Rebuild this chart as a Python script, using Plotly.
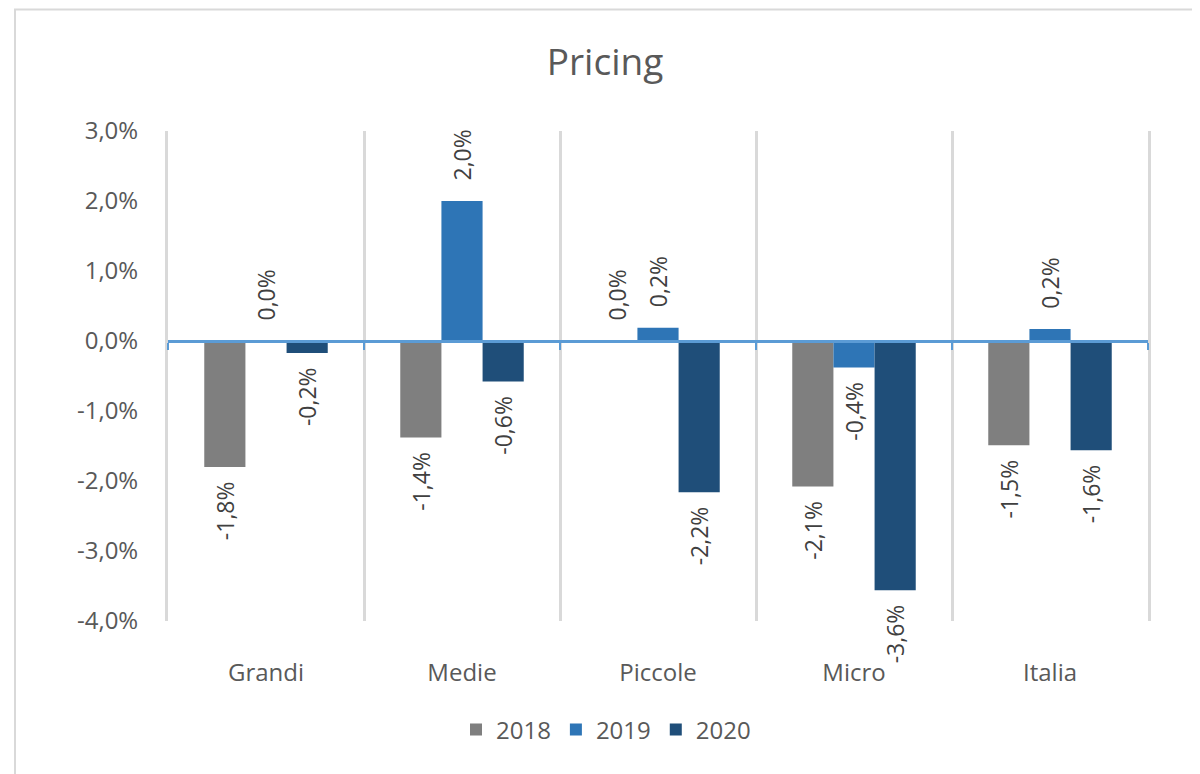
import plotly.graph_objects as go

categories = ["Grandi", "Medie", "Piccole", "Micro", "Italia"]
series_names = ["2018", "2019", "2020"]
values_2018 = [-0.018, -0.0138, 0.0, -0.0208, -0.0149]
values_2019 = [0.0, 0.020, 0.0019, -0.0038, 0.0017]
values_2020 = [-0.0017, -0.0058, -0.0216, -0.0356, -0.0156]
colors = ["#7f7f7f", "#2e75b6", "#1f4e79"]
y_tick_vals = [-0.04, -0.03, -0.02, -0.01, 0.0, 0.01, 0.02, 0.03]
y_tick_text = ["-4,0%", "-3,0%", "-2,0%", "-1,0%", "0,0%", "1,0%", "2,0%", "3,0%"]

FONT = "Open Sans"
TXT = "#595959"
OFF = 8  # page body margin in the browser


def fmt(v):
    s = f"{v * 100:.1f}%".replace(".", ",")
    if s.startswith("-0,0"):
        s = s[1:]
    if v < 0:
        return s + "\u2002"
    return "\u2002\u00a0" + s


fig = go.Figure()
for name, vals, col in zip(series_names, [values_2018, values_2019, values_2020], colors):
    texts = [fmt(v) for v in vals]
    fig.add_trace(go.Bar(
        x=categories, y=vals, name=name,
        marker=dict(color=col, line=dict(width=0)),
        text=texts, textposition="outside", textangle=-90,
        constraintext="none", cliponaxis=False,
        textfont=dict(family=FONT, size=23, color="#404040"),
        hoverinfo="skip",
    ))

# helper trace for the zero-axis with boundary ticks
fig.add_trace(go.Scatter(x=[None], y=[None], xaxis="x2", showlegend=False, hoverinfo="skip"))

W, H = 1200 - OFF, 774 - OFF
L, T = 168 - OFF, 131 - OFF
R = W - (1148 - OFF)
B = H - (621 - OFF)
pw, ph = W - L - R, H - T - B


def px_x(p):
    return (p - OFF - L) / pw


def px_y(p):
    return (H - B - (p - OFF)) / ph


fig.update_layout(
    width=W, height=H,
    margin=dict(l=L, r=R, t=T, b=B),
    paper_bgcolor="white", plot_bgcolor="white",
    barmode="group", bargap=0.37, bargroupgap=0,
    title=dict(text="Pricing", x=(605 - OFF) / W, xref="container", xanchor="center",
               y=1 - (62 - OFF) / H, yref="container", yanchor="middle",
               font=dict(family=FONT, size=37, color=TXT)),
    font=dict(family=FONT, color=TXT),
    xaxis=dict(type="category", tickson="boundaries", showgrid=True,
               gridcolor="#d9d9d9", gridwidth=3, ticks="", showline=False,
               zeroline=False, tickfont=dict(family=FONT, size=24, color=TXT),
               ticklabelstandoff=35),
    xaxis2=dict(overlaying="x", anchor="free", position=4 / 7, range=[-0.5, 4.5],
                tickvals=[-0.5, 0.5, 1.5, 2.5, 3.5, 4.5], ticks="outside", ticklen=7,
                tickwidth=2, tickcolor="#5b9bd5", showticklabels=False, showgrid=False,
                zeroline=False, showline=True, linecolor="#5b9bd5", linewidth=2.5),
    yaxis=dict(range=[-0.04, 0.03], tickvals=y_tick_vals, ticktext=y_tick_text,
               showgrid=False, zeroline=False, showline=True, mirror=True,
               linecolor="#d9d9d9", linewidth=3, ticks="",
               tickfont=dict(family=FONT, size=24, color=TXT), ticklabelstandoff=22),
    legend=dict(orientation="h", x=px_x(606), xanchor="center", y=px_y(730),
                yanchor="middle", font=dict(family=FONT, size=24, color=TXT),
                bgcolor="rgba(0,0,0,0)", traceorder="normal"),
    shapes=[dict(type="rect", xref="paper", yref="paper",
                 x0=px_x(15), x1=px_x(1196), y0=px_y(790), y1=px_y(9.5),
                 line=dict(color="#d9d9d9", width=2), fillcolor="rgba(0,0,0,0)",
                 layer="below")],
)

fig.write_html("out.html")
